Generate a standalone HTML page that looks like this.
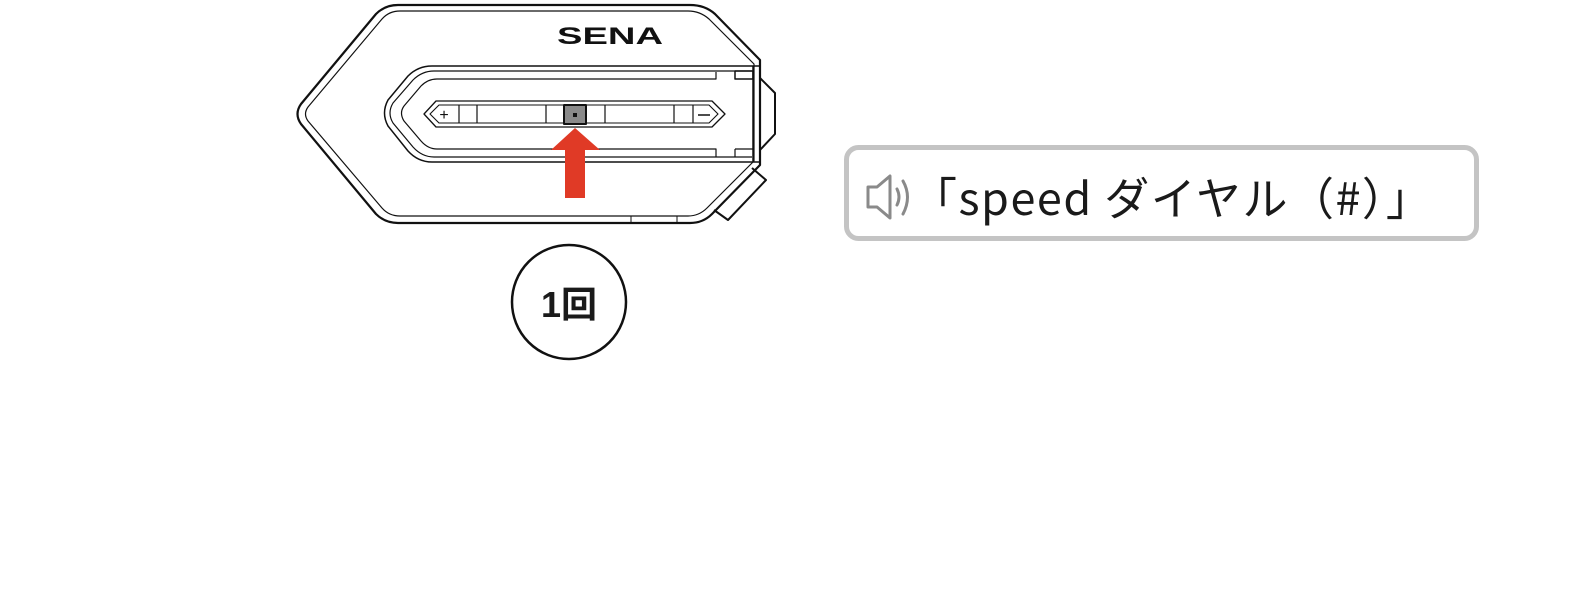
<!DOCTYPE html>
<html><head><meta charset="utf-8"><style>
html,body{margin:0;padding:0;background:#fff;width:1572px;height:604px;overflow:hidden}
</style></head><body>
<svg width="1572" height="604" viewBox="0 0 1572 604" xmlns="http://www.w3.org/2000/svg">
<g fill="none" stroke="#111" stroke-linejoin="round">
 <path d="M398,5 L690,5 Q705,5 715,14 L760,60 L760,165 L712,214 Q703,223 690,223 L398,223 Q385,223 376,214 L301,124 Q294,114 301,104 L376,14 Q385,5 398,5 Z" stroke-width="2.2"/>
 <path d="M400,11 L688,11 Q700,11 709,19 L754,64 L754,161 L707,208 Q699,216 688,216 L400,216 Q389,216 382,208 L308,121 Q303,114 308,107 L382,19 Q389,11 400,11 Z" stroke-width="1.2"/>
 <path d="M760,78 L775,93 L775,134 L760,150" stroke-width="2"/>
 <path d="M752,168 L766,180 L728,220 L714,210" stroke-width="2"/>
 <line x1="631" y1="216" x2="631" y2="223" stroke-width="1"/>
 <line x1="677" y1="216" x2="677" y2="223" stroke-width="1"/>
 <path d="M760,66 L432,66 Q418,66 408,76 L388,100 Q381,113 388,126 L408,151 Q418,162 432,162 L760,162" stroke-width="1.5"/>
 <path d="M752,71 L434,71 Q422,71 413,80 L393,103 Q387,113 393,123 L413,147 Q422,157 434,157 L752,157" stroke-width="1.2"/>
 <path d="M716,72 L716,79 L437,79 Q428,79 421,86 L404,106 Q399,113 404,121 L421,141 Q428,149 437,149 L716,149 L716,157" stroke-width="1.2"/>
 <line x1="753" y1="66" x2="753" y2="162" stroke-width="1.5"/>
 <rect x="735" y="71" width="18" height="8" stroke-width="1.5"/>
 <line x1="735" y1="149" x2="735" y2="157" stroke-width="1.2"/>
 <line x1="735" y1="149" x2="753" y2="149" stroke-width="1.2"/>
 <path d="M424,114 L436,101 L712,101 L725,114 L712,127 L436,127 Z" stroke-width="1.3"/>
 <path d="M430,114 L439,105 L709,105 L718,114 L709,123 L439,123 Z" stroke-width="1.1"/>
 <g stroke-width="1.2">
  <line x1="459" y1="105" x2="459" y2="123"/>
  <line x1="477" y1="105" x2="477" y2="123"/>
  <line x1="546" y1="105" x2="546" y2="123"/>
  <line x1="605" y1="105" x2="605" y2="123"/>
  <line x1="674" y1="105" x2="674" y2="123"/>
  <line x1="693" y1="105" x2="693" y2="123"/>
 </g>
 <rect x="564" y="105" width="22" height="19" fill="#8a8a8a" stroke-width="2"/>
</g>
<rect x="573" y="113" width="4" height="4" fill="#111"/>
<text x="444" y="120" font-family="Liberation Sans, sans-serif" font-size="16" text-anchor="middle" fill="#111">+</text>
<line x1="698" y1="115" x2="710" y2="115" stroke="#111" stroke-width="1.5"/>
<text x="557" y="44" font-family="Liberation Sans, sans-serif" font-size="24" font-weight="bold" fill="#111" textLength="106" lengthAdjust="spacingAndGlyphs">SENA</text>
<path d="M551,150 L575,128 L600,150 L585,150 L585,198 L565,198 L565,150 Z" fill="#e03a26"/>
<circle cx="569" cy="302" r="57" fill="#fff" stroke="#111" stroke-width="2.5"/>
<text x="569" y="317" font-family="Liberation Sans, 'Noto Sans CJK JP', sans-serif" font-size="36" font-weight="bold" text-anchor="middle" fill="#1a1a1a">1回</text>
<rect x="846.5" y="147.5" width="630" height="91" rx="12" fill="#fff" stroke="#c4c4c4" stroke-width="5"/>
<g fill="none" stroke="#8a8a8a" stroke-width="3" stroke-linejoin="round" stroke-linecap="round">
 <path d="M868,187 L877,187 L890,176 L890,218 L877,207 L868,207 Z"/>
 <path d="M897,189 Q901,197 897,205"/>
 <path d="M903,181 Q912,197 903,214"/>
</g>
<text x="912" y="215" font-family="'Noto Sans CJK JP', sans-serif" font-size="45" letter-spacing="1.5" fill="#1a1a1a">「speed ダイヤル（#）」</text>
</svg>
</body></html>
